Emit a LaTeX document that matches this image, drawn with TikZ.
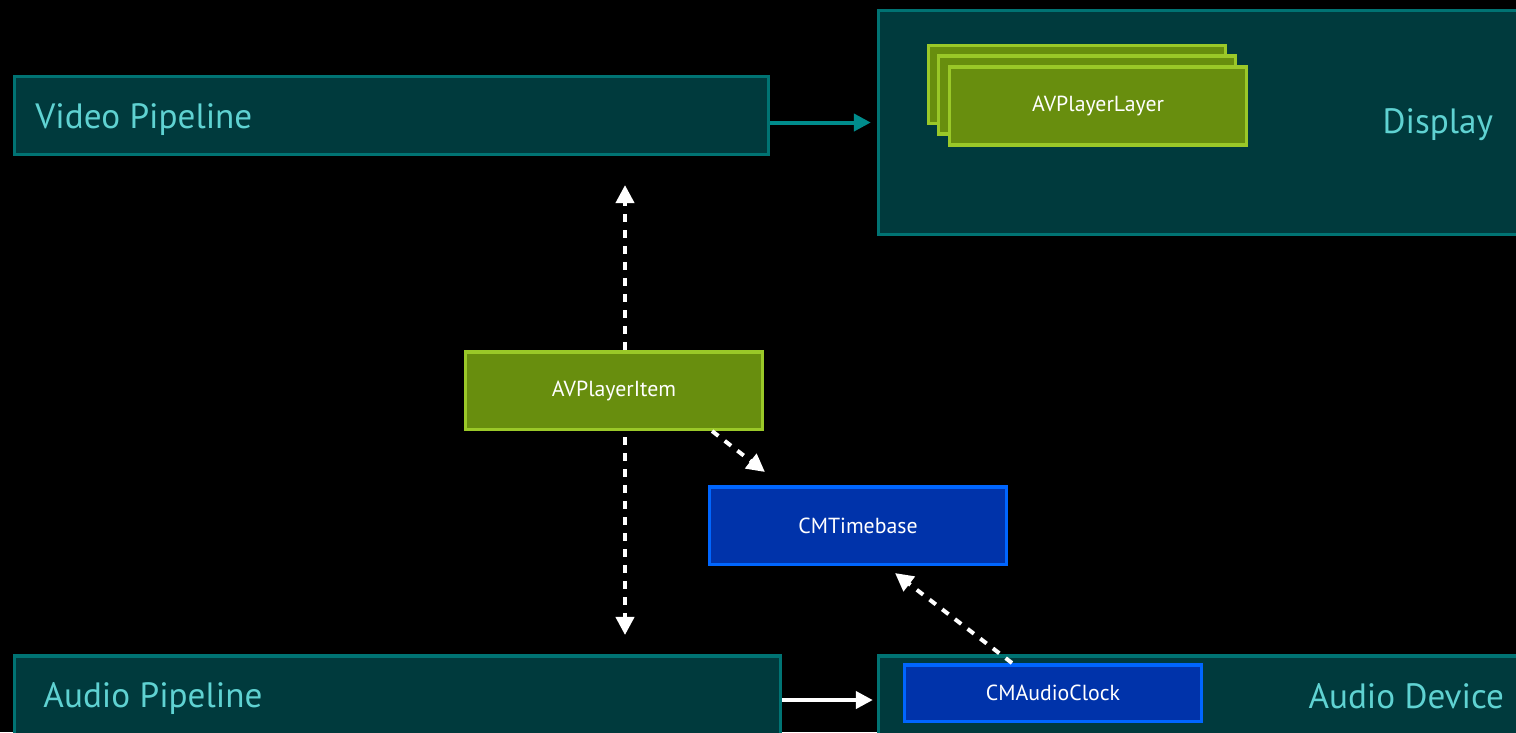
\documentclass[tikz,border=0pt]{standalone}
\usepackage{fontspec}
\setmainfont{PT Sans}
\usetikzlibrary{arrows.meta,positioning}

\definecolor{pipefill}{RGB}{0,58,61}
\definecolor{pipeline}{RGB}{0,115,115}
\definecolor{headcol}{RGB}{95,210,210}
\definecolor{greenfill}{RGB}{104,142,14}
\definecolor{greenline}{RGB}{154,200,40}
\definecolor{bluefill}{RGB}{0,51,170}
\definecolor{blueline}{RGB}{0,102,255}
\definecolor{tealarrow}{RGB}{0,140,140}

\tikzset{
  pipebox/.style={draw=pipeline, line width=0.035cm, fill=pipefill, inner sep=0pt},
  headtext/.style={text=headcol, font=\fontsize{10}{12}\selectfont, inner sep=0pt},
  greenbox/.style={draw=greenline, line width=0.035cm, fill=greenfill, minimum width=2.965cm,
    minimum height=0.775cm, text=white, font=\fontsize{6.2}{7}\selectfont},
  bluebox/.style={draw=blueline, line width=0.035cm, fill=bluefill, minimum width=2.965cm,
    minimum height=0.775cm, text=white, font=\fontsize{6.2}{7}\selectfont},
  dasharrow/.style={white, line width=0.04cm, dash pattern=on 0.08cm off 0.08cm,
    -{Triangle[width=0.18cm,length=0.18cm]}},
  solidarrow/.style={line width=0.04cm, -{Triangle[width=0.17cm,length=0.17cm]}}
}

\begin{document}
\begin{tikzpicture}[x=0.01cm,y=-0.01cm]

    \useasboundingbox (0,0) rectangle (1516,732);
    \fill[black] (0,0) rectangle (1516,732);
    \clip (0,0) rectangle (1516,732);

    % pipelines and devices
    \node (video) at (391.5,115.5) [pipebox, minimum width=7.535cm, minimum height=0.775cm,
      label={[headtext,anchor=west,xshift=0.22cm,yshift=-0.045cm]west:Video Pipeline}] {};
    \node (display) at (1203.5,122.5) [pipebox, minimum width=6.495cm, minimum height=2.235cm,
      label={[headtext,anchor=east,xshift=-0.365cm,yshift=-0.02cm]east:Display}] {};
    \node (audio) at (397.5,695) [pipebox, minimum width=7.655cm, minimum height=0.785cm,
      label={[headtext,anchor=west,xshift=0.30cm,yshift=-0.03cm]west:Audio Pipeline}] {};
    \node (device) at (1203.5,695) [pipebox, minimum width=6.495cm, minimum height=0.785cm,
      label={[headtext,anchor=east,xshift=-0.255cm,yshift=-0.01cm]east:Audio Device}] {};

    % layer stack
    \node (layer3) at (1077,84.5) [greenbox] {};
    \node (layer2) at (1087,95) [greenbox] {};
    \node (layer) at (1098,106) [greenbox] {AVPlayerLayer};

    \node (item) at (614,390.5) [greenbox] {AVPlayerItem};
    \node (tb) at (858,525.5) [bluebox] {CMTimebase};
    \node (clock) at (1053,693) [bluebox, minimum height=0.565cm] {CMAudioClock};

    % connectors
    \coordinate (axis) at (625,0);
    \draw[solidarrow, tealarrow, shorten >=0.06cm] (video.east |- display.west) -- (display.west);
    \draw[solidarrow, white, shorten >=0.04cm] ([yshift=-0.05cm]audio.east) -- ([yshift=-0.05cm]device.west);
    \draw[dasharrow, shorten >=0.29cm] (item.north -| axis) -- (video.south -| axis);
    \draw[dasharrow, shorten <=0.06cm, shorten >=0.19cm] (item.south -| axis) -- (audio.north -| axis);
    \draw[dasharrow] ([xshift=-0.52cm]item.south east) -- ([xshift=0.57cm,yshift=0.13cm]tb.north west);
    \draw[dasharrow] ([xshift=1.09cm]clock.north west) -- ([xshift=0.37cm,yshift=-0.07cm]tb.south);

\end{tikzpicture}
\end{document}
